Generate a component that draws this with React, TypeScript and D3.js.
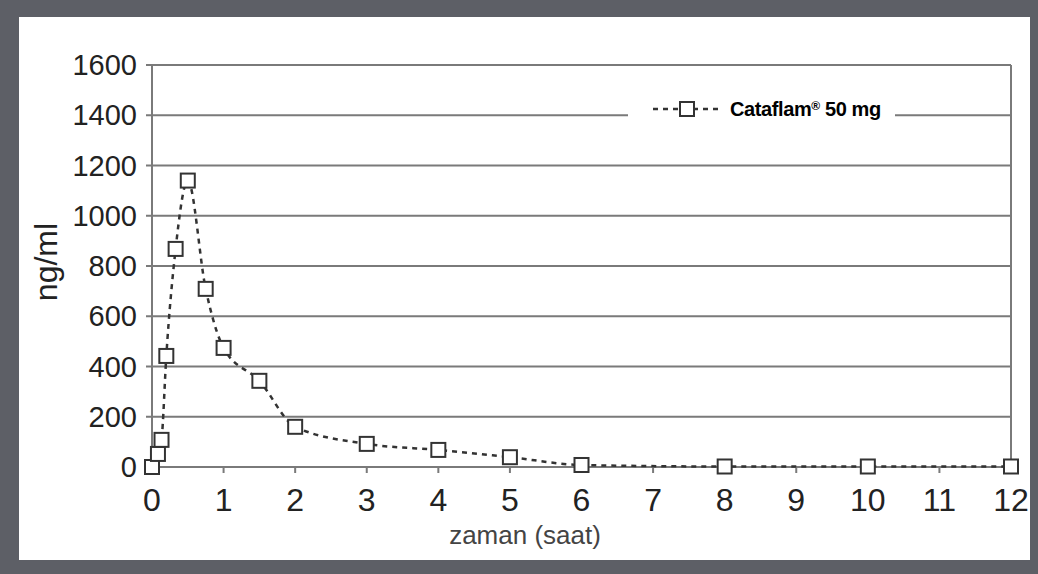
import React from "react";
import * as d3 from "d3";

const timeHours = [0, 0.083, 0.133, 0.2, 0.33, 0.5, 0.75, 1, 1.5, 2, 3, 4, 5, 6, 8, 10, 12];
const concNgMl = [0, 52, 108, 442, 868, 1140, 709, 474, 343, 160, 92, 68, 39, 8, 2, 2, 2];
const xTicks = [0, 1, 2, 3, 4, 5, 6, 7, 8, 9, 10, 11, 12];
const yTicks = [0, 200, 400, 600, 800, 1000, 1200, 1400, 1600];
const seriesName = "Cataflam";
const seriesDose = "50 mg";
const xTitle = "zaman (saat)";
const yTitle = "ng/ml";

const W = 1038;
const H = 574;
const FONT = "'Liberation Sans', Arial, Helvetica, sans-serif";

export default function App() {
  const left = 152;
  const right = 1011;
  const top = 65;
  const bottom = 467;
  const x = d3.scaleLinear().domain([0, 12]).range([left, right]);
  const y = d3.scaleLinear().domain([0, 1600]).range([bottom, top]);
  const pts: [number, number][] = timeHours.map((t, i) => [x(t), y(concNgMl[i])]);
  const line = d3.line().curve(d3.curveMonotoneX)(pts) || "";
  const grid = "#7a7a7a";
  const ink = "#333";
  const sq = 14;

  return (
    <svg width={W} height={H} style={{ position: "fixed", left: 0, top: 0 }} xmlns="http://www.w3.org/2000/svg">
      <rect x={0} y={0} width={W} height={H} fill="#5d5f66" />
      <rect x={19} y={17} width={1011} height={543} fill="#ffffff" />
      {yTicks.map((v) => (
        <line key={"g" + v} x1={left - 6} x2={right} y1={y(v)} y2={y(v)} stroke={grid} strokeWidth={2} />
      ))}
      <line x1={left} x2={left} y1={top} y2={bottom} stroke={grid} strokeWidth={2} />
      <line x1={right} x2={right} y1={top} y2={bottom} stroke={grid} strokeWidth={2} />
      {xTicks.map((v) => (
        <line key={"t" + v} x1={x(v)} x2={x(v)} y1={bottom} y2={bottom + 6} stroke={grid} strokeWidth={2} />
      ))}
      {yTicks.map((v) => (
        <text key={"yl" + v} x={137} y={y(v) + 10} textAnchor="end" fontFamily={FONT} fontSize={29} fill="#222">
          {v}
        </text>
      ))}
      {xTicks.map((v) => (
        <text key={"xl" + v} x={x(v)} y={511} textAnchor="middle" fontFamily={FONT} fontSize={32} fill="#222">
          {v}
        </text>
      ))}
      <text x={525} y={544} textAnchor="middle" fontFamily={FONT} fontSize={26} fill="#444">
        {xTitle}
      </text>
      <text transform={`translate(57,262) rotate(-90)`} textAnchor="middle" fontFamily={FONT} fontSize={32} fill="#222">
        {yTitle}
      </text>
      <rect x={628} y={94} width={267} height={32} fill="#ffffff" />
      <line x1={653} x2={718} y1={109} y2={109} stroke={ink} strokeWidth={2.5} strokeDasharray="5,5" />
      <rect x={687 - sq / 2} y={109 - sq / 2} width={sq} height={sq} fill="#fff" stroke={ink} strokeWidth={2} />
      <text x={730} y={116} fontFamily={FONT} fontSize={20} fontWeight="bold" fill="#000" letterSpacing={-0.4}>
        {seriesName}
        <tspan fontSize={12} dy={-6}>®</tspan>
        <tspan dy={6}> {seriesDose}</tspan>
      </text>
      <path d={line} fill="none" stroke={ink} strokeWidth={2.5} strokeDasharray="5,5" />
      {pts.map(([px, py], i) => (
        <rect key={"p" + i} x={px - sq / 2} y={py - sq / 2} width={sq} height={sq} fill="#fff" stroke={ink} strokeWidth={2} />
      ))}
    </svg>
  );
}
